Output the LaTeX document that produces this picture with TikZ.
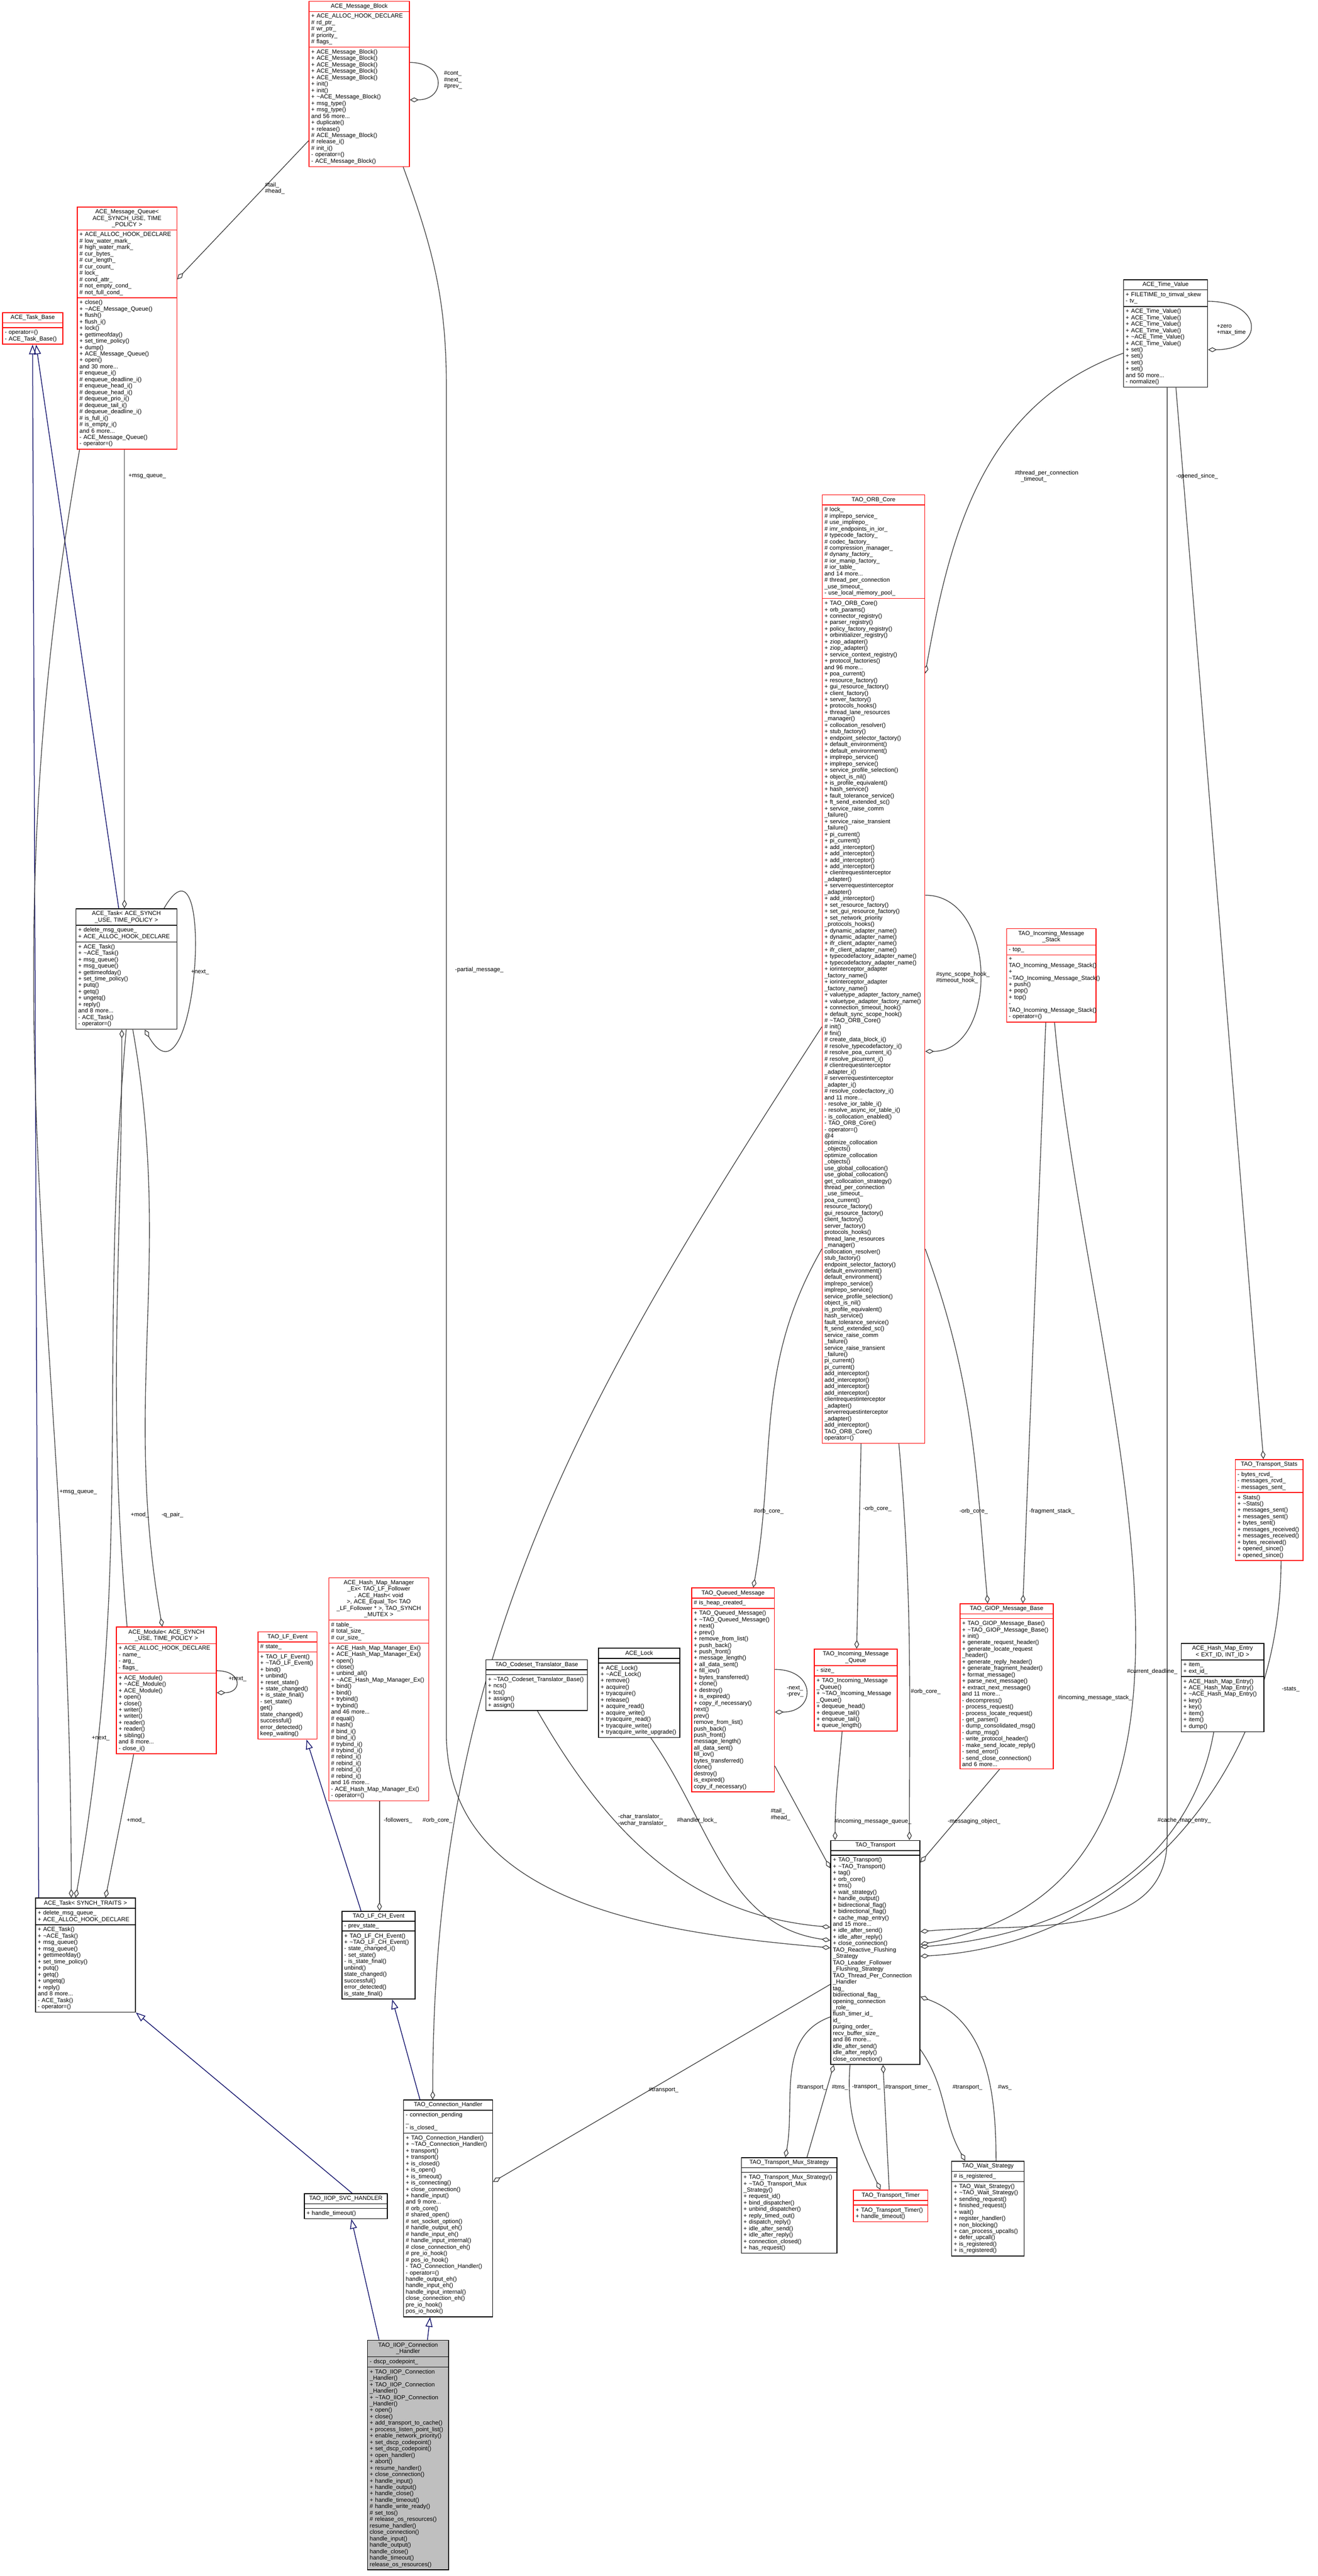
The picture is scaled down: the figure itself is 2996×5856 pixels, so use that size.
\documentclass[tikz,border=0pt]{standalone}
\usepackage{fontspec}
\setmainfont{Liberation Sans}
\usetikzlibrary{shapes.multipart,arrows.meta,calc,positioning,backgrounds}
\newcommand\clsfont{\fontsize{3.8}{4.15}\selectfont}
\newcommand\tld{\textasciitilde}
\newcommand\ttl[1]{{\centering #1\par}}
\definecolor{boxgray}{RGB}{191,191,191}
\definecolor{inhblue}{RGB}{25,25,112}
\definecolor{edgegray}{RGB}{64,64,64}
\begin{document}
\catcode`\_=12
\begin{tikzpicture}[x=0.01cm,y=-0.01cm,
    cls/.style={rectangle split, rectangle split parts=3,
      draw=black, line width=0.5pt, text width=#1, font=\clsfont, align=left,
      inner xsep=0.05cm, inner ysep=0.045cm, anchor=north west, fill=white},
    rcls/.style={cls=#1, draw=red},
    lbl/.style={font=\clsfont, align=left, inner sep=0pt},
    agg/.style={draw=edgegray, line width=0.45pt, -{Diamond[open,length=0.2cm,width=0.11cm]}},
    inh/.style={draw=inhblue, line width=0.5pt, -{Triangle[open,length=0.22cm,width=0.16cm]}}]
\useasboundingbox (0,0) rectangle (2996,5856);

% ACE side
\node[rcls=2.18cm] (mblock) at (702,2) {\ttl{ACE_Message_Block}
  \nodepart{two} + ACE_ALLOC_HOOK_DECLARE\\\# rd_ptr_\\\# wr_ptr_\\\# priority_\\\# flags_
  \nodepart{three} + ACE_Message_Block()\\+ ACE_Message_Block()\\+ ACE_Message_Block()\\+ ACE_Message_Block()\\+ ACE_Message_Block()\\+ init()\\+ init()\\+ \tld ACE_Message_Block()\\+ msg_type()\\+ msg_type()\\and 56 more...\\+ duplicate()\\+ release()\\\# ACE_Message_Block()\\\# release_i()\\\# init_i()\\- operator=()\\- ACE_Message_Block()};
\node[rcls=2.16cm] (mqueue) at (175,470) {\ttl{ACE_Message_Queue<\\ ACE_SYNCH_USE, TIME\\_POLICY >}
  \nodepart{two} + ACE_ALLOC_HOOK_DECLARE\\\# low_water_mark_\\\# high_water_mark_\\\# cur_bytes_\\\# cur_length_\\\# cur_count_\\\# lock_\\\# cond_attr_\\\# not_empty_cond_\\\# not_full_cond_
  \nodepart{three} + close()\\+ \tld ACE_Message_Queue()\\+ flush()\\+ flush_i()\\+ lock()\\+ gettimeofday()\\+ set_time_policy()\\+ dump()\\+ ACE_Message_Queue()\\+ open()\\and 30 more...\\\# enqueue_i()\\\# enqueue_deadline_i()\\\# enqueue_head_i()\\\# dequeue_head_i()\\\# dequeue_prio_i()\\\# dequeue_tail_i()\\\# dequeue_deadline_i()\\\# is_full_i()\\\# is_empty_i()\\and 6 more...\\- ACE_Message_Queue()\\- operator=()};
\node[rcls=1.27cm] (taskbase) at (5,710) {\ttl{ACE_Task_Base}
  \nodepart{two} \mbox{}
  \nodepart{three} - operator=()\\- ACE_Task_Base()};
\node[cls=2.19cm] (tasksynch) at (172,2065) {\ttl{ACE_Task< ACE_SYNCH\\_USE, TIME_POLICY >}
  \nodepart{two} + delete_msg_queue_\\+ ACE_ALLOC_HOOK_DECLARE
  \nodepart{three} + ACE_Task()\\+ \tld ACE_Task()\\+ msg_queue()\\+ msg_queue()\\+ gettimeofday()\\+ set_time_policy()\\+ putq()\\+ getq()\\+ ungetq()\\+ reply()\\and 8 more...\\- ACE_Task()\\- operator=()};
\node[rcls=2.17cm] (module) at (264,3698) {\ttl{ACE_Module< ACE_SYNCH\\_USE, TIME_POLICY >}
  \nodepart{two} + ACE_ALLOC_HOOK_DECLARE\\- name_\\- arg_\\- flags_
  \nodepart{three} + ACE_Module()\\+ \tld ACE_Module()\\+ ACE_Module()\\+ open()\\+ close()\\+ writer()\\+ writer()\\+ reader()\\+ reader()\\+ sibling()\\and 8 more...\\- close_i()};
\node[cls=2.17cm] (tasktraits) at (80,4314) {\ttl{ACE_Task< SYNCH_TRAITS >}
  \nodepart{two} + delete_msg_queue_\\+ ACE_ALLOC_HOOK_DECLARE
  \nodepart{three} + ACE_Task()\\+ \tld ACE_Task()\\+ msg_queue()\\+ msg_queue()\\+ gettimeofday()\\+ set_time_policy()\\+ putq()\\+ getq()\\+ ungetq()\\+ reply()\\and 8 more...\\- ACE_Task()\\- operator=()};

% LF and handler side
\node[rcls=1.24cm] (lfevent) at (586,3709) {\ttl{TAO_LF_Event}
  \nodepart{two} \# state_
  \nodepart{three} + TAO_LF_Event()\\+ \tld TAO_LF_Event()\\+ bind()\\+ unbind()\\+ reset_state()\\+ state_changed()\\+ is_state_final()\\- set_state()\\* get()\\* state_changed()\\* successful()\\* error_detected()\\* keep_waiting()};
\node[rcls=2.17cm] (hashmgr) at (747,3586) {\ttl{ACE_Hash_Map_Manager\\_Ex< TAO_LF_Follower\\ *, ACE_Hash< void\\ * >, ACE_Equal_To< TAO\\_LF_Follower * >, TAO_SYNCH\\_MUTEX >}
  \nodepart{two} \# table_\\\# total_size_\\\# cur_size_
  \nodepart{three} + ACE_Hash_Map_Manager_Ex()\\+ ACE_Hash_Map_Manager_Ex()\\+ open()\\+ close()\\+ unbind_all()\\+ \tld ACE_Hash_Map_Manager_Ex()\\+ bind()\\+ bind()\\+ trybind()\\+ trybind()\\and 46 more...\\\# equal()\\\# hash()\\\# bind_i()\\\# bind_i()\\\# trybind_i()\\\# trybind_i()\\\# rebind_i()\\\# rebind_i()\\\# rebind_i()\\\# rebind_i()\\and 16 more...\\- ACE_Hash_Map_Manager_Ex()\\- operator=()};
\node[cls=1.56cm] (lfchevent) at (777,4344) {\ttl{TAO_LF_CH_Event}
  \nodepart{two} - prev_state_
  \nodepart{three} + TAO_LF_CH_Event()\\+ \tld TAO_LF_CH_Event()\\- state_changed_i()\\- set_state()\\- is_state_final()\\* unbind()\\* state_changed()\\* successful()\\* error_detected()\\* is_state_final()};
\node[cls=2.21cm] (codeset) at (1104,3772) {\ttl{TAO_Codeset_Translator_Base}
  \nodepart{two} \mbox{}
  \nodepart{three} + \tld TAO_Codeset_Translator_Base()\\+ ncs()\\+ tcs()\\+ assign()\\+ assign()};
\node[cls=1.75cm] (acelock) at (1360,3746) {\ttl{ACE_Lock}
  \nodepart{two} \mbox{}
  \nodepart{three} + ACE_Lock()\\+ \tld ACE_Lock()\\+ remove()\\+ acquire()\\+ tryacquire()\\+ release()\\+ acquire_read()\\+ acquire_write()\\+ tryacquire_read()\\+ tryacquire_write()\\+ tryacquire_write_upgrade()};
\node[rcls=1.78cm] (queuedmsg) at (1572,3609) {\ttl{TAO_Queued_Message}
  \nodepart{two} \# is_heap_created_
  \nodepart{three} + TAO_Queued_Message()\\+ \tld TAO_Queued_Message()\\+ next()\\+ prev()\\+ remove_from_list()\\+ push_back()\\+ push_front()\\+ message_length()\\+ all_data_sent()\\+ fill_iov()\\+ bytes_transferred()\\+ clone()\\+ destroy()\\+ is_expired()\\+ copy_if_necessary()\\* next()\\* prev()\\* remove_from_list()\\* push_back()\\* push_front()\\* message_length()\\* all_data_sent()\\* fill_iov()\\* bytes_transferred()\\* clone()\\* destroy()\\* is_expired()\\* copy_if_necessary()};

% ORB core
\node[rcls=2.23cm] (orbcore) at (1869,1124) {\ttl{TAO_ORB_Core}
  \nodepart{two} \# lock_\\\# implrepo_service_\\\# use_implrepo_\\\# imr_endpoints_in_ior_\\\# typecode_factory_\\\# codec_factory_\\\# compression_manager_\\\# dynany_factory_\\\# ior_manip_factory_\\\# ior_table_\\and 14 more...\\\# thread_per_connection\\_use_timeout_\\- use_local_memory_pool_
  \nodepart{three} + TAO_ORB_Core()\\+ orb_params()\\+ connector_registry()\\+ parser_registry()\\+ policy_factory_registry()\\+ orbinitializer_registry()\\+ ziop_adapter()\\+ ziop_adapter()\\+ service_context_registry()\\+ protocol_factories()\\and 96 more...\\+ poa_current()\\+ resource_factory()\\+ gui_resource_factory()\\+ client_factory()\\+ server_factory()\\+ protocols_hooks()\\+ thread_lane_resources\\_manager()\\+ collocation_resolver()\\+ stub_factory()\\+ endpoint_selector_factory()\\+ default_environment()\\+ default_environment()\\+ implrepo_service()\\+ implrepo_service()\\+ service_profile_selection()\\+ object_is_nil()\\+ is_profile_equivalent()\\+ hash_service()\\+ fault_tolerance_service()\\+ ft_send_extended_sc()\\+ service_raise_comm\\_failure()\\+ service_raise_transient\\_failure()\\+ pi_current()\\+ pi_current()\\+ add_interceptor()\\+ add_interceptor()\\+ add_interceptor()\\+ add_interceptor()\\+ clientrequestinterceptor\\_adapter()\\+ serverrequestinterceptor\\_adapter()\\+ add_interceptor()\\+ set_resource_factory()\\+ set_gui_resource_factory()\\+ set_network_priority\\_protocols_hooks()\\+ dynamic_adapter_name()\\+ dynamic_adapter_name()\\+ ifr_client_adapter_name()\\+ ifr_client_adapter_name()\\+ typecodefactory_adapter_name()\\+ typecodefactory_adapter_name()\\+ iorinterceptor_adapter\\_factory_name()\\+ iorinterceptor_adapter\\_factory_name()\\+ valuetype_adapter_factory_name()\\+ valuetype_adapter_factory_name()\\+ connection_timeout_hook()\\+ default_sync_scope_hook()\\\# \tld TAO_ORB_Core()\\\# init()\\\# fini()\\\# create_data_block_i()\\\# resolve_typecodefactory_i()\\\# resolve_poa_current_i()\\\# resolve_picurrent_i()\\\# clientrequestinterceptor\\_adapter_i()\\\# serverrequestinterceptor\\_adapter_i()\\\# resolve_codecfactory_i()\\and 11 more...\\- resolve_ior_table_i()\\- resolve_async_ior_table_i()\\- is_collocation_enabled()\\- TAO_ORB_Core()\\- operator=()\\* @4\\* optimize_collocation\\_objects()\\* optimize_collocation\\_objects()\\* use_global_collocation()\\* use_global_collocation()\\* get_collocation_strategy()\\* thread_per_connection\\_use_timeout_\\* poa_current()\\* resource_factory()\\* gui_resource_factory()\\* client_factory()\\* server_factory()\\* protocols_hooks()\\* thread_lane_resources\\_manager()\\* collocation_resolver()\\* stub_factory()\\* endpoint_selector_factory()\\* default_environment()\\* default_environment()\\* implrepo_service()\\* implrepo_service()\\* service_profile_selection()\\* object_is_nil()\\* is_profile_equivalent()\\* hash_service()\\* fault_tolerance_service()\\* ft_send_extended_sc()\\* service_raise_comm\\_failure()\\* service_raise_transient\\_failure()\\* pi_current()\\* pi_current()\\* add_interceptor()\\* add_interceptor()\\* add_interceptor()\\* add_interceptor()\\* clientrequestinterceptor\\_adapter()\\* serverrequestinterceptor\\_adapter()\\* add_interceptor()\\* TAO_ORB_Core()\\* operator=()};
\node[rcls=1.78cm] (inqueue) at (1851,3748) {\ttl{TAO_Incoming_Message\\_Queue}
  \nodepart{two} - size_
  \nodepart{three} + TAO_Incoming_Message\\_Queue()\\+ \tld TAO_Incoming_Message\\_Queue()\\+ dequeue_head()\\+ dequeue_tail()\\+ enqueue_tail()\\+ queue_length()};
\node[rcls=1.93cm] (instack) at (2288,2110) {\ttl{TAO_Incoming_Message\\_Stack}
  \nodepart{two} - top_
  \nodepart{three} + TAO_Incoming_Message_Stack()\\+ \tld TAO_Incoming_Message_Stack()\\+ push()\\+ pop()\\+ top()\\- TAO_Incoming_Message_Stack()\\- operator=()};
\node[rcls=2.02cm] (giopbase) at (2182,3645) {\ttl{TAO_GIOP_Message_Base}
  \nodepart{two} \mbox{}
  \nodepart{three} + TAO_GIOP_Message_Base()\\+ \tld TAO_GIOP_Message_Base()\\+ init()\\+ generate_request_header()\\+ generate_locate_request\\_header()\\+ generate_reply_header()\\+ generate_fragment_header()\\+ format_message()\\+ parse_next_message()\\+ extract_next_message()\\and 11 more...\\- decompress()\\- process_request()\\- process_locate_request()\\- get_parser()\\- dump_consolidated_msg()\\- dump_msg()\\- write_protocol_header()\\- make_send_locate_reply()\\- send_error()\\- send_close_connection()\\and 6 more...};
\node[cls=1.81cm] (timevalue) at (2554,635) {\ttl{ACE_Time_Value}
  \nodepart{two} + FILETIME_to_timval_skew\\- tv_
  \nodepart{three} + ACE_Time_Value()\\+ ACE_Time_Value()\\+ ACE_Time_Value()\\+ ACE_Time_Value()\\+ \tld ACE_Time_Value()\\+ ACE_Time_Value()\\+ set()\\+ set()\\+ set()\\+ set()\\and 50 more...\\- normalize()};
\node[rcls=1.44cm] (tstats) at (2808,3317) {\ttl{TAO_Transport_Stats}
  \nodepart{two} - bytes_rcvd_\\- messages_rcvd_\\- messages_sent_
  \nodepart{three} + Stats()\\+ \tld Stats()\\+ messages_sent()\\+ messages_sent()\\+ bytes_sent()\\+ messages_received()\\+ messages_received()\\+ bytes_received()\\+ opened_since()\\+ opened_since()};
\node[cls=1.78cm] (hashentry) at (2685,3735) {\ttl{ACE_Hash_Map_Entry\\< EXT_ID, INT_ID >}
  \nodepart{two} + item_\\+ ext_id_
  \nodepart{three} + ACE_Hash_Map_Entry()\\+ ACE_Hash_Map_Entry()\\+ \tld ACE_Hash_Map_Entry()\\+ key()\\+ key()\\+ item()\\+ item()\\+ dump()};

% transport and its strategies
\node[cls=1.93cm] (transport) at (1888,4183) {\ttl{TAO_Transport}
  \nodepart{two} \mbox{}
  \nodepart{three} + TAO_Transport()\\+ \tld TAO_Transport()\\+ tag()\\+ orb_core()\\+ tms()\\+ wait_strategy()\\+ handle_output()\\+ bidirectional_flag()\\+ bidirectional_flag()\\+ cache_map_entry()\\and 15 more...\\+ idle_after_send()\\+ idle_after_reply()\\+ close_connection()\\* TAO_Reactive_Flushing\\_Strategy\\* TAO_Leader_Follower\\_Flushing_Strategy\\* TAO_Thread_Per_Connection\\_Handler\\* tag_\\* bidirectional_flag_\\* opening_connection\\_role_\\* flush_timer_id_\\* id_\\* purging_order_\\* recv_buffer_size_\\and 86 more...\\* idle_after_send()\\* idle_after_reply()\\* close_connection()};
\node[cls=2.07cm] (muxstrat) at (1685,4904) {\ttl{TAO_Transport_Mux_Strategy}
  \nodepart{two} \mbox{}
  \nodepart{three} + TAO_Transport_Mux_Strategy()\\+ \tld TAO_Transport_Mux\\_Strategy()\\+ request_id()\\+ bind_dispatcher()\\+ unbind_dispatcher()\\+ reply_timed_out()\\+ dispatch_reply()\\+ idle_after_send()\\+ idle_after_reply()\\+ connection_closed()\\+ has_request()};
\node[rcls=1.59cm] (ttimer) at (1940,4978) {\ttl{TAO_Transport_Timer}
  \nodepart{two} \mbox{}
  \nodepart{three} + TAO_Transport_Timer()\\+ handle_timeout()};
\node[cls=1.55cm] (waitstrat) at (2163,4912) {\ttl{TAO_Wait_Strategy}
  \nodepart{two} \# is_registered_
  \nodepart{three} + TAO_Wait_Strategy()\\+ \tld TAO_Wait_Strategy()\\+ sending_request()\\+ finished_request()\\+ wait()\\+ register_handler()\\+ non_blocking()\\+ can_process_upcalls()\\+ defer_upcall()\\+ is_registered()\\+ is_registered()};
\node[cls=1.92cm] (connhandler) at (917,4773) {\ttl{TAO_Connection_Handler}
  \nodepart{two} - connection_pending\\_\\- is_closed_
  \nodepart{three} + TAO_Connection_Handler()\\+ \tld TAO_Connection_Handler()\\+ transport()\\+ transport()\\+ is_closed()\\+ is_open()\\+ is_timeout()\\+ is_connecting()\\+ close_connection()\\+ handle_input()\\and 9 more...\\\# orb_core()\\\# shared_open()\\\# set_socket_option()\\\# handle_output_eh()\\\# handle_input_eh()\\\# handle_input_internal()\\\# close_connection_eh()\\\# pre_io_hook()\\\# pos_io_hook()\\- TAO_Connection_Handler()\\- operator=()\\* handle_output_eh()\\* handle_input_eh()\\* handle_input_internal()\\* close_connection_eh()\\* pre_io_hook()\\* pos_io_hook()};
\node[cls=1.79cm] (svchandler) at (691,4986) {\ttl{TAO_IIOP_SVC_HANDLER}
  \nodepart{two} \mbox{}
  \nodepart{three} + handle_timeout()};
\node[cls=1.74cm, fill=boxgray] (iiopch) at (835,5319) {\ttl{TAO_IIOP_Connection\\_Handler}
  \nodepart{two} - dscp_codepoint_
  \nodepart{three} + TAO_IIOP_Connection\\_Handler()\\+ TAO_IIOP_Connection\\_Handler()\\+ \tld TAO_IIOP_Connection\\_Handler()\\+ open()\\+ close()\\+ add_transport_to_cache()\\+ process_listen_point_list()\\+ enable_network_priority()\\+ set_dscp_codepoint()\\+ set_dscp_codepoint()\\+ open_handler()\\+ abort()\\+ resume_handler()\\+ close_connection()\\+ handle_input()\\+ handle_output()\\+ handle_close()\\+ handle_timeout()\\\# handle_write_ready()\\\# set_tos()\\\# release_os_resources()\\* resume_handler()\\* close_connection()\\* handle_input()\\* handle_output()\\* handle_close()\\* handle_timeout()\\* release_os_resources()};

% edge labels
\node[lbl] (lcont) at (1030,182) {\#cont_\\\#next_\\\#prev_};
\node[lbl] (lmbq) at (625,428) {\#tail_\\\#head_};
\node[lbl] (lpartial) at (1090,2205) {-partial_message_};
\node[lbl] (lmqsynch) at (335,1083) {+msg_queue_};
\node[lbl] (lmqtraits) at (178,3392) {+msg_queue_};
\node[lbl] (lsynchnext) at (455,2210) {+next_};
\node[lbl] (lmodmod) at (318,3444) {+mod_};
\node[lbl] (lqpair) at (392,3444) {-q_pair_};
\node[lbl] (ltraitsnext) at (229,3952) {+next_};
\node[lbl] (ltraitsmod) at (309,4138) {+mod_};
\node[lbl] (lmodnext) at (540,3817) {+next_};
\node[lbl] (lfollow) at (905,4138) {-followers_};
\node[lbl] (lorbch) at (995,4138) {\#orb_core_};
\node[lbl] (ltvorb) at (2380,1083) {\#thread_per_connection\\\quad_timeout_};
\node[lbl] (ltvself) at (2800,750) {+zero\\+max_time};
\node[lbl] (lopened) at (2722,1083) {-opened_since_};
\node[lbl, anchor=west] (lhooks) at (2128,2222) {\#sync_scope_hook_\\\#timeout_hook_};
\node[lbl] (lorbqm) at (1748,3436) {\#orb_core_};
\node[lbl] (lorbimq) at (1995,3430) {-orb_core_};
\node[lbl] (lorbgiop) at (2214,3436) {-orb_core_};
\node[lbl] (lfrag) at (2392,3436) {-fragment_stack_};
\node[lbl, anchor=west] (lstack) at (2405,3860) {\#incoming_message_stack_};
\node[lbl, anchor=east] (ldeadline) at (2678,3800) {\#current_deadline_};
\node[lbl] (lstats) at (2935,3840) {-stats_};
\node[lbl] (lqmself) at (1808,3845) {-next_\\-prev_};
\node[lbl] (lorbtr) at (2105,3845) {\#orb_core_};
\node[lbl] (lcharset) at (1461,4138) {-char_translator_\\-wchar_translator_};
\node[lbl] (llock) at (1585,4138) {\#handler_lock_};
\node[lbl] (lqmtr) at (1775,4125) {\#tail_\\\#head_};
\node[lbl] (limq) at (1985,4141) {\#incoming_message_queue_};
\node[lbl] (lmsgobj) at (2215,4141) {-messaging_object_};
\node[lbl] (lcache) at (2693,4138) {\#cache_map_entry_};
\node[lbl] (ltrch) at (1509,4751) {\#transport_};
\node[lbl] (ltrmux) at (1846,4745) {\#transport_};
\node[lbl] (ltms) at (1910,4745) {\#tms_};
\node[lbl] (ltrtimer) at (1970,4745) {-transport_};
\node[lbl] (ltimer) at (2065,4745) {\#transport_timer_};
\node[lbl] (ltrwait) at (2200,4745) {\#transport_};
\node[lbl] (lws) at (2285,4745) {\#ws_};

\begin{pgfonlayer}{background}
% inheritance
\draw[inh] ($(tasktraits.north west)+(8,0)$) -- ($(taskbase.south west)+(69,0)$);
\draw[inh] ($(tasksynch.north west)+(98,0)$) -- ($(taskbase.south west)+(77,0)$);
\draw[inh] ($(svchandler.north west)+(110,0)$) -- (tasktraits.south east);
\draw[inh] ($(iiopch.north west)+(27,0)$) -- ($(svchandler.south west)+(108,0)$);
\draw[inh] ($(iiopch.north west)+(137,0)$) -- ($(connhandler.south west)+(61,0)$);
\draw[inh] ($(lfchevent.north west)+(44,0)$) -- ($(lfevent.south west)+(111,0)$);
\draw[inh] ($(connhandler.north west)+(38,0)$) -- ($(lfchevent.south west)+(115,0)$);

% ACE members
\draw[agg] ($(mblock.north east)+(0,140)$) to[out=0,in=0,looseness=2.5] ($(mblock.north east)+(0,225)$);
\draw[agg] ($(mblock.south west)+(0,-60)$) -- ($(mqueue.north east)+(0,165)$);
\draw[agg] ($(mqueue.south west)+(108,0)$) -- ($(tasksynch.north west)+(111,0)$);
\draw[agg] ($(mqueue.south west)+(6,0)$) to[out=-100,in=90] ($(tasktraits.north west)+(82,0)$);
\draw[agg] ($(tasksynch.north east)+(-30,0)$) to[out=60,in=-60,looseness=2.2] ($(tasksynch.south west)+(157,0)$);
\draw[agg] ($(tasksynch.south west)+(130,0)$) to[out=-80,in=100] ($(module.north west)+(105,0)$);
\draw[agg] ($(module.north west)+(25,0)$) to[out=95,in=-90] ($(tasksynch.south west)+(105,0)$);
\draw[agg] ($(tasksynch.south west)+(115,0)$) to[out=-95,in=80] ($(tasktraits.north west)+(92,0)$);
\draw[agg] ($(module.south west)+(40,0)$) -- ($(tasktraits.north west)+(160,0)$);
\draw[agg] ($(module.north east)+(0,100)$) to[out=0,in=0,looseness=3] ($(module.north east)+(0,150)$);

% TAO members
\draw[agg] ($(hashmgr.south west)+(116,0)$) -- ($(lfchevent.north west)+(86,0)$);
\draw[agg] ($(orbcore.north west)+(0,1210)$) to[out=237,in=90] ($(connhandler.north west)+(67,0)$);
\draw[agg] ($(timevalue.north west)+(0,168)$) to[out=200,in=80] ($(orbcore.north east)+(0,407)$);
\draw[agg] ($(timevalue.north east)+(0,50)$) to[out=0,in=0,looseness=3] ($(timevalue.north east)+(0,160)$);
\draw[agg] ($(timevalue.south west)+(120,0)$) -- ($(tstats.north west)+(65,0)$);
\draw[agg] ($(orbcore.north east)+(0,911)$) to[out=0,in=0,looseness=1.2] ($(orbcore.north east)+(0,1266)$);
\draw[agg] ($(orbcore.north west)+(0,1715)$) to[out=240,in=80] ($(queuedmsg.north west)+(141,0)$);
\draw[agg] ($(orbcore.south west)+(89,0)$) -- ($(inqueue.north west)+(97,0)$);
\draw[agg] ($(orbcore.north east)+(0,1715)$) to[out=-70,in=95] ($(giopbase.north west)+(64,0)$);
\draw[agg] ($(instack.south west)+(90,0)$) -- ($(giopbase.north west)+(144,0)$);
\draw[agg] ($(queuedmsg.north east)+(0,186)$) to[out=0,in=0,looseness=2.5] ($(queuedmsg.north east)+(0,283)$);

% into the transport
\draw[agg] ($(mblock.south east)+(-15,0)$) to[out=-70,in=90] ($(mblock.south west)+(313,500)$) -- ($(mblock.south west)+(313,3560)$) to[out=-90,in=175] ($(transport.north west)+(0,245)$);
\draw[agg] ($(codeset.south west)+(118,0)$) to[out=-60,in=175] ($(transport.north west)+(0,198)$);
\draw[agg] ($(acelock.south west)+(120,0)$) to[out=-55,in=172] ($(transport.north west)+(0,228)$);
\draw[agg] ($(queuedmsg.south east)+(0,-60)$) -- ($(transport.north west)+(0,64)$);
\draw[agg] ($(inqueue.south west)+(64,0)$) to[out=-95,in=90] ($(transport.north west)+(11,0)$);
\draw[agg] ($(orbcore.south west)+(175,0)$) to[out=-85,in=90] ($(transport.north west)+(180,0)$);
\draw[agg] ($(giopbase.south west)+(91,0)$) -- ($(transport.north east)+(0,51)$);
\draw[agg] ($(timevalue.south west)+(100,0)$) -- ($(timevalue.south west)+(100,3300)$) to[out=-90,in=5] ($(transport.north east)+(0,208)$);
\draw[agg] ($(instack.south west)+(110,0)$) to[out=-85,in=10] ($(transport.north east)+(0,237)$);
\draw[agg] ($(hashentry.south west)+(75,0)$) to[out=-100,in=5] ($(transport.north east)+(0,243)$);
\draw[agg] ($(tstats.south west)+(105,0)$) to[out=-90,in=3] ($(transport.north east)+(0,264)$);

% out of the transport
\draw[agg] ($(transport.north west)+(0,328)$) -- ($(connhandler.north east)+(0,187)$);
\draw[agg] ($(transport.north west)+(0,402)$) to[out=200,in=80] ($(muxstrat.north west)+(101,0)$);
\draw[agg] ($(muxstrat.north west)+(150,0)$) -- ($(transport.south west)+(8,0)$);
\draw[agg] ($(transport.south west)+(45,0)$) to[out=-95,in=115] ($(ttimer.north west)+(62,0)$);
\draw[agg] ($(ttimer.north west)+(82,0)$) -- ($(transport.south west)+(120,0)$);
\draw[agg] ($(transport.south east)+(0,-35)$) to[out=-55,in=120] ($(waitstrat.north west)+(32,0)$);
\draw[agg] ($(waitstrat.north west)+(102,0)$) to[out=90,in=-20] ($(transport.north east)+(0,356)$);
\end{pgfonlayer}
\end{tikzpicture}
\end{document}
